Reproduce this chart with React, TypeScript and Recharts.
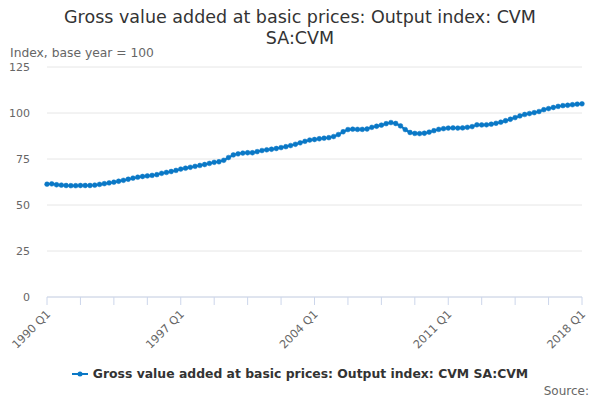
import React from 'react';
import { LineChart, Line, XAxis, YAxis, CartesianGrid } from 'recharts';

const years = [1990, 1991, 1992, 1993, 1994, 1995, 1996, 1997, 1998, 1999, 2000, 2001, 2002, 2003,
    2004, 2005, 2006, 2007, 2008, 2009, 2010, 2011, 2012, 2013, 2014, 2015, 2016, 2017, 2018];

// quarterly index values, 1990 Q1 .. 2018 Q1
const gvaIndex = [
    61.3, 61.5, 61.0, 60.8,
    60.6, 60.5, 60.5, 60.6,
    60.6, 60.6, 60.8, 61.2,
    61.6, 62.0, 62.4, 62.9,
    63.4, 64.0, 64.6, 65.1,
    65.5, 65.8, 66.1, 66.5,
    67.2, 67.7, 68.2, 68.8,
    69.5, 70.0, 70.5, 71.0,
    71.5, 72.0, 72.6, 73.2,
    73.5, 74.3, 75.8, 77.2,
    77.8, 78.2, 78.4, 78.4,
    79.0, 79.6, 80.0, 80.3,
    80.7, 81.2, 81.7, 82.3,
    83.0, 83.8, 84.6, 85.3,
    85.6, 86.0, 86.3, 86.6,
    87.2, 88.3, 89.8, 91.0,
    91.2, 91.1, 91.1, 91.3,
    92.2, 92.8, 93.4, 94.2,
    94.8, 94.3, 93.0, 91.0,
    89.4, 88.9, 88.8, 89.0,
    89.6, 90.4, 91.1, 91.5,
    91.8, 91.9, 91.8, 91.9,
    92.2, 92.6, 93.6, 93.5,
    93.6, 93.9, 94.4, 95.0,
    95.8, 96.6, 97.5, 98.4,
    99.2, 99.7, 100.2, 100.8,
    101.8, 102.4, 103.0, 103.6,
    104.0, 104.2, 104.5, 104.8,
    105.0,
];

const yTicks = [0, 25, 50, 75, 100, 125];

const quarters = years.flatMap(y => [1, 2, 3, 4].map(q => `${y} Q${q}`)).slice(0, gvaIndex.length);

const chartData = quarters.map((q, i) => ({ q, value: gvaIndex[i] }));

const FONT = '"DejaVu Sans", sans-serif';
const BLUE = '#0a78c6';

const XTick = (props: any) => {
    const { x, y, payload } = props;
    const label: string = payload.value;
    if (!label.endsWith('Q1')) return null;
    return (
        <text x={x + 4} y={y + 8} transform={`rotate(-45, ${x + 4}, ${y + 8})`} textAnchor="end"
            fill="#666" fontSize={11.3} fontFamily={FONT}>
            {label}
        </text>
    );
};

export default function App() {
    return (
        <div style={{ position: 'absolute', left: 0, top: 0, width: 600, height: 400, background: '#fff', fontFamily: FONT }}>
            <div style={{ position: 'absolute', left: 0, top: 7, width: 600, textAlign: 'center', fontSize: 17.5, lineHeight: '21px', color: '#333' }}>
                Gross value added at basic prices: Output index: CVM<br />SA:CVM
            </div>
            <div style={{ position: 'absolute', left: 10, top: 46, fontSize: 12.3, color: '#666' }}>
                Index, base year = 100
            </div>
            <LineChart width={600} height={400} data={chartData} margin={{ top: 67, right: 18, left: 0, bottom: 0 }}>
                <CartesianGrid vertical={false} stroke="#e6e6e6" />
                <XAxis dataKey="q" interval={6} height={103} stroke="#ccd6eb" tickSize={8}
                    tick={<XTick />} />
                <YAxis domain={[0, 125]} ticks={yTicks} width={47} axisLine={false} tickLine={false}
                    tickMargin={11} tick={{ fill: '#666', fontSize: 11, fontFamily: FONT }} />
                <Line type="linear" dataKey="value" stroke={BLUE} strokeWidth={2}
                    dot={{ r: 2.4, fill: BLUE, stroke: BLUE, strokeWidth: 0.5 }} isAnimationActive={false} />
            </LineChart>
            <div style={{ position: 'absolute', left: 0, top: 366, width: 600, display: 'flex', justifyContent: 'center', alignItems: 'center', fontSize: 12.4, fontWeight: 'bold', color: '#333' }}>
                <svg width={16} height={10} style={{ marginRight: 5 }}>
                    <line x1={0} y1={5} x2={16} y2={5} stroke={BLUE} strokeWidth={2} />
                    <circle cx={8} cy={5} r={2.5} fill={BLUE} />
                </svg>
                Gross value added at basic prices: Output index: CVM SA:CVM
            </div>
            <div style={{ position: 'absolute', right: 11, top: 384, fontSize: 12, color: '#666' }}>
                Source:
            </div>
        </div>
    );
}
